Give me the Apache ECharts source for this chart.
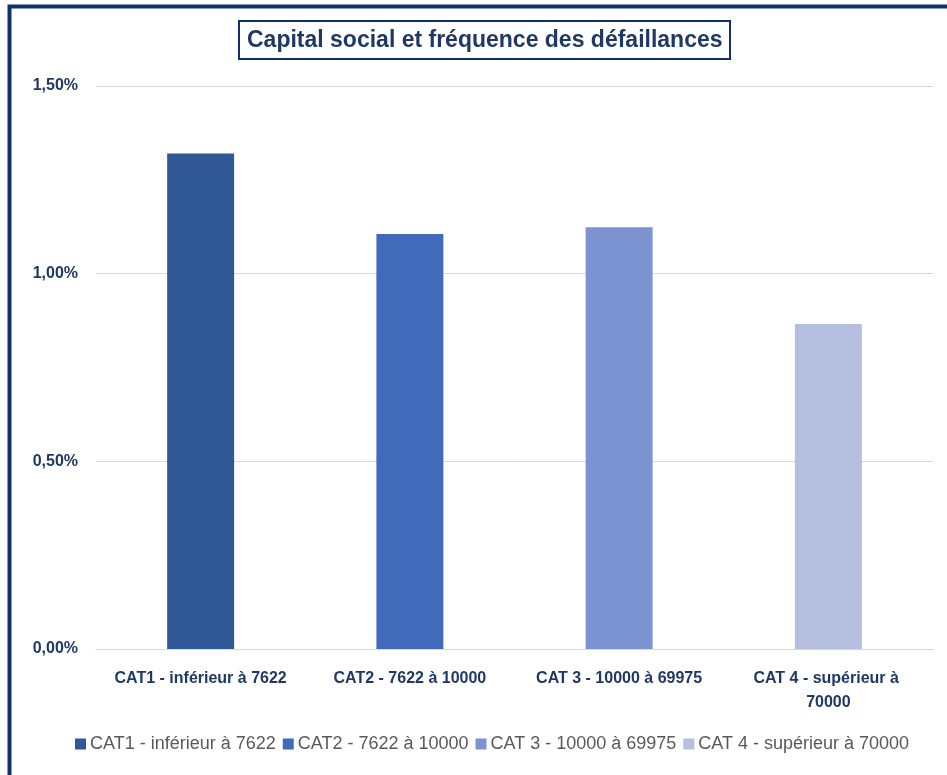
<!DOCTYPE html>
<html>
<head>
<meta charset="utf-8">
<script src="https://cdn.jsdelivr.net/npm/echarts@6/dist/echarts.min.js"></script>
<style>
  html, body { margin: 0; padding: 0; background: #ffffff; }
  #chart { width: 947px; height: 775px; }
</style>
</head>
<body>
<div id="chart"></div>
<script>
const categories = ['CAT1 - inférieur à 7622', 'CAT2 - 7622 à 10000', 'CAT 3 - 10000 à 69975', 'CAT 4 - supérieur à 70000'];
const frequencies = [1.32, 1.106, 1.124, 0.866]; // en %
const barColors = ['#305896', '#3F6BBA', '#7B93D0', '#B4BFE0'];
const yTicks = { min: 0, max: 1.5, interval: 0.5 };

const font = '"Liberation Sans", "DejaVu Sans", sans-serif';
const navy = '#1F3864';

const chart = echarts.init(document.getElementById('chart'));

// one series per category so the legend lists each one; bars overlap via barGap -100%
const series = categories.map((name, i) => ({
  name: name,
  type: 'bar',
  barWidth: '32%',
  barGap: '-100%',
  itemStyle: { color: barColors[i] },
  data: categories.map((c, j) => (j === i ? frequencies[i] : '-'))
}));

chart.setOption({
  animation: false,
  textStyle: { fontFamily: font },
  title: {
    text: 'Capital social et fréquence des défaillances',
    left: 239,
    top: 21,
    padding: [8, 8, 7, 8],
    borderColor: '#10306B',
    borderWidth: 2,
    textStyle: { fontFamily: font, fontSize: 23, fontWeight: 'bold', color: navy }
  },
  graphic: [{
    type: 'rect',
    shape: { x: 9.5, y: 6.5, width: 1200, height: 1200 },
    style: { fill: 'none', stroke: '#10306B', lineWidth: 4 },
    silent: true
  }],
  legend: {
    bottom: 17,
    left: 70,
    itemWidth: 11,
    itemHeight: 11,
    itemGap: 7,
    icon: 'rect',
    textStyle: { fontFamily: font, fontSize: 18, color: '#595959', padding: [0, 0, 0, -1] },
    data: categories
  },
  grid: { left: 96, right: 14, top: 86, bottom: 126, containLabel: false },
  xAxis: {
    type: 'category',
    data: categories,
    axisLine: { lineStyle: { color: '#D9D9D9', width: 1 } },
    axisTick: { show: false },
    axisLabel: {
      margin: 18,
      color: navy,
      fontFamily: font,
      fontSize: 16,
      fontWeight: 'bold',
      lineHeight: 24,
      width: 195,
      overflow: 'break',
      interval: 0
    }
  },
  yAxis: {
    type: 'value',
    min: yTicks.min,
    max: yTicks.max,
    interval: yTicks.interval,
    axisLine: { show: false },
    axisTick: { show: false },
    splitLine: { lineStyle: { color: '#D9D9D9', width: 1 } },
    axisLabel: {
      margin: 18,
      color: navy,
      fontFamily: font,
      fontSize: 16,
      fontWeight: 'bold',
      formatter: v => v.toFixed(2).replace('.', ',') + '%'
    }
  },
  series: series
});
</script>
</body>
</html>
